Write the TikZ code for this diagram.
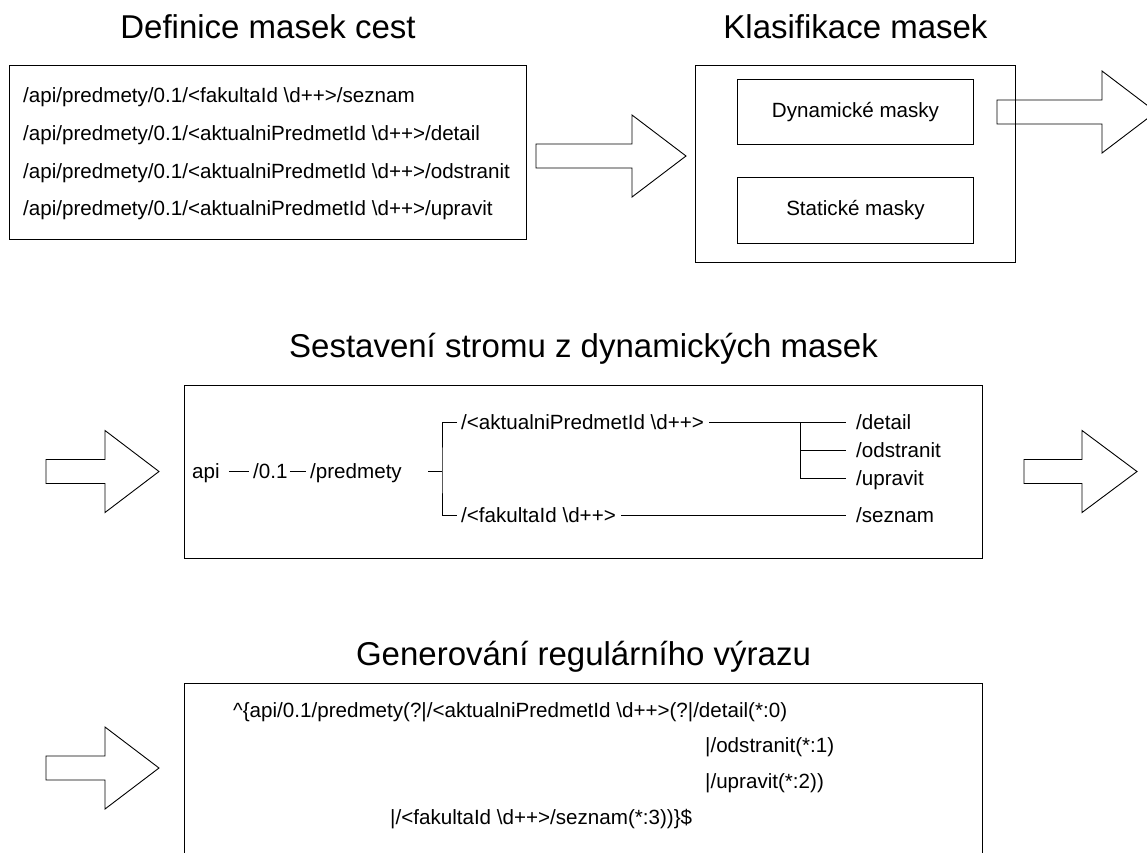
\documentclass[tikz,border=0pt]{standalone}
\usepackage{fontspec}
\setmainfont{Liberation Sans}
\newcommand{\bs}{\textbackslash}
% block arrow: tail centre, shaft length, shaft half width, head length, head half width
\newcommand{\fatarrow}[5]{%
  \draw[bigarrow] (#1) ++(0,-#3) -- ++(#2,0) -- ++(0,#3-#5) -- ++(#4,#5)
    -- ++(-#4,#5) -- ++(0,#3-#5) -- ++(-#2,0) -- cycle;}
\begin{document}
\begin{tikzpicture}[x=1pt,y=-1pt,
  title/.style={font=\fontsize{33}{40}\selectfont, anchor=base, inner sep=0pt},
  txt/.style={font=\fontsize{20.6}{25}\selectfont, anchor=base west, inner sep=0pt},
  ctxt/.style={font=\fontsize{20.6}{25}\selectfont, inner sep=0pt},
  leaf/.style={font=\fontsize{20.6}{25}\selectfont, anchor=base west, inner sep=0pt,
    text height=13pt, text depth=0pt},
  frame/.style={draw, line width=1pt, anchor=north west, inner sep=0pt},
  bigarrow/.style={draw, line width=0.9pt, line join=miter},
  branch/.style={draw, line width=1pt},
]
\useasboundingbox (0,0) rectangle (1147,852);

% ---- stage 1: path masks ----
\node[frame, minimum width=517pt, minimum height=174pt] (defbox) at (9,65) {};
\node[title] (t1) at ([yshift=27pt]defbox.north) {Definice masek cest};
\node[txt] (m1) at (23,102) {/api/predmety/0.1/<fakultaId \bs d++>/seznam};
\node[txt] (m2) at (23,140) {/api/predmety/0.1/<aktualniPredmetId \bs d++>/detail};
\node[txt] (m3) at (23,178) {/api/predmety/0.1/<aktualniPredmetId \bs d++>/odstranit};
\node[txt] (m4) at (23,215) {/api/predmety/0.1/<aktualniPredmetId \bs d++>/upravit};

\coordinate (a1) at (536,156);
\fatarrow{a1}{96}{12}{54}{41}

% ---- stage 2: classification ----
\node[frame, minimum width=320pt, minimum height=197pt] (clsbox) at (695,65) {};
\node[title] (t2) at ([yshift=27pt]clsbox.north) {Klasifikace masek};
\node[frame, minimum width=236pt, minimum height=65pt] (dynbox) at (737,79) {};
\node[frame, minimum width=236pt, minimum height=66pt] (statbox) at (737,177) {};
\node[ctxt] at (dynbox.center) {Dynamické masky};
\node[ctxt] at (statbox.center) {Statické masky};

\coordinate (a2) at (997,112);
\fatarrow{a2}{105}{12}{54}{41}

% ---- stage 3: tree of dynamic masks ----
\node[frame, minimum width=798pt, minimum height=173pt] (treebox) at (184,385) {};
\node[title] (t3) at ([yshift=28pt]treebox.north) {Sestavení stromu z dynamických masek};

\coordinate (a3) at (46,471.5);
\fatarrow{a3}{59}{12}{54}{41}

\node[leaf] (api) at (192,478) {api};
\node[leaf] (ver) at (253,478) {/0.1};
\node[leaf] (pred) at (310,478) {/predmety};
\node[leaf] (akt) at (461,429) {/<aktualniPredmetId \bs d++>};
\node[leaf] (fak) at (461,522) {/<fakultaId \bs d++>};
\node[leaf] (det) at (856,429) {/detail};
\node[leaf] (ods) at (856,457) {/odstranit};
\node[leaf] (upr) at (856,485) {/upravit};
\node[leaf] (sez) at (856,522) {/seznam};

\coordinate (fork) at (442,471.5);
\coordinate (subfork) at (800,422.5);

\draw[branch, shorten <=9pt, shorten >=4pt] (api.east) -- (ver.west);
\draw[branch, shorten <=2pt, shorten >=4pt] (ver.east) -- (pred.west);
\draw[branch] ([xshift=26pt]pred.east) -- (fork);
\draw[branch] ([xshift=-4pt]akt.west) -| (fork) |- ([xshift=-4pt]fak.west);
\draw[branch] ([xshift=5pt]akt.east) -- ([xshift=-10pt]det.west);
\draw[branch] (subfork) |- ([xshift=-10pt]upr.west);
\draw[branch] (subfork |- ods.west) -- ([xshift=-10pt]ods.west);
\draw[branch] ([xshift=5pt]fak.east) -- ([xshift=-10pt]sez.west);

\coordinate (a4) at (1024,471.5);
\fatarrow{a4}{58}{12}{55}{41}

% ---- stage 4: regular expression ----
\node[frame, minimum width=798pt, minimum height=200pt] (rxbox) at (184,683) {};
\node[title] (t4) at ([yshift=18pt]rxbox.north) {Generování regulárního výrazu};

\coordinate (a5) at (46,768);
\fatarrow{a5}{59}{12}{54}{41}

\node[txt] (r1) at (233,717) {\^{}\{api/0.1/predmety(?|/<aktualniPredmetId \bs d++>(?|/detail(*:0)};
\node[txt] (r2) at (705,752) {|/odstranit(*:1)};
\node[txt] (r3) at (705,788) {|/upravit(*:2))};
\node[txt] (r4) at (390,824) {|/<fakultaId \bs d++>/seznam(*:3))\}\$};
\end{tikzpicture}
\end{document}
